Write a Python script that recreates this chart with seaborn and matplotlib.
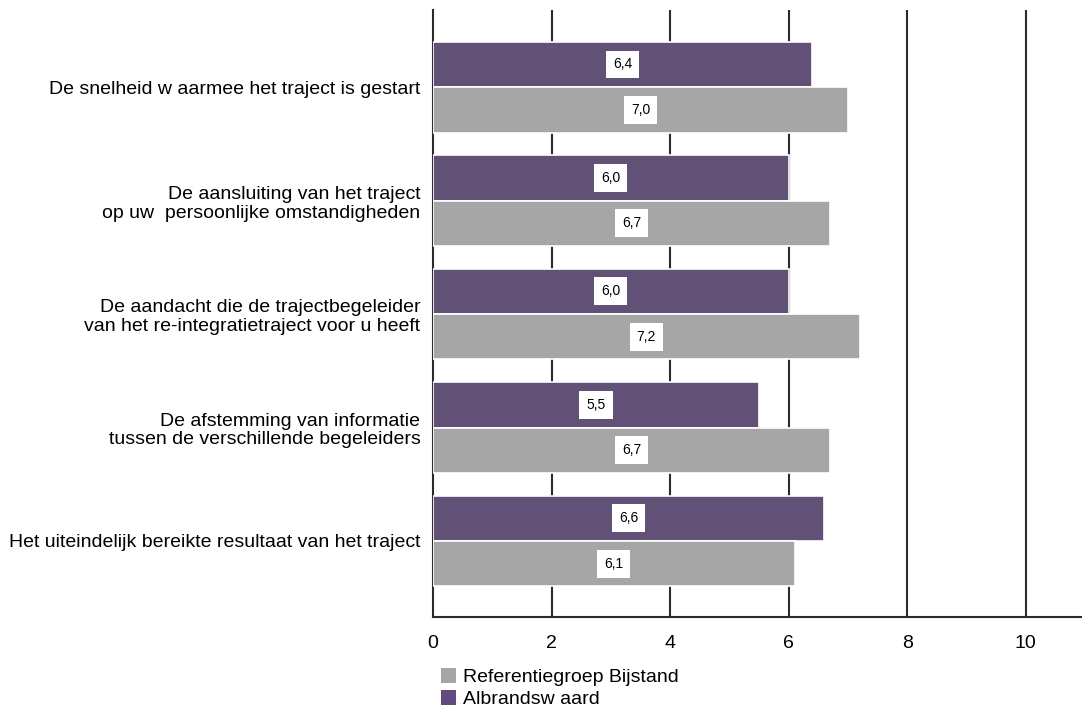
import matplotlib
matplotlib.use("Agg")
import matplotlib.pyplot as plt
from matplotlib.patches import Patch
import seaborn as sns
import pandas as pd

# Survey items (y categories)
items = [
    "De snelheid w aarmee het traject is gestart",
    "De aansluiting van het traject\nop uw  persoonlijke omstandigheden",
    "De aandacht die de trajectbegeleider\nvan het re-integratietraject voor u heeft",
    "De afstemming van informatie\ntussen de verschillende begeleiders",
    "Het uiteindelijk bereikte resultaat van het traject",
]
# Average scores per group
albrandswaard = [6.4, 6.0, 6.0, 5.5, 6.6]
referentie = [7.0, 6.7, 7.2, 6.7, 6.1]
groups = ["Albrandsw aard", "Referentiegroep Bijstand"]
x_ticks = [0, 2, 4, 6, 8, 10]

purple = "#624B7C"
grey = "#A6A6A6"

df = pd.DataFrame({
    "item": items * 2,
    "score": albrandswaard + referentie,
    "groep": [groups[0]] * len(items) + [groups[1]] * len(items),
})

sns.set_style("white")
plt.rcParams["font.family"] = ["Liberation Sans", "DejaVu Sans"]
plt.rcParams["text.color"] = "black"
plt.rcParams["xtick.color"] = "black"
plt.rcParams["ytick.color"] = "black"

fig = plt.figure(figsize=(10.82, 7.10), dpi=100)
ax = fig.add_axes([433 / 1082, 1 - 617 / 710, 1 - 433 / 1082, (617 - 10) / 710])

sns.barplot(
    data=df, y="item", x="score", hue="groep", hue_order=groups,
    order=items, palette=[purple, grey], orient="h", width=0.8,
    edgecolor="white", linewidth=1.2, ax=ax, legend=False, zorder=3,
)

ax.set_xlim(0, (1082 - 433) / 59.27)
ax.set_ylim(4.67, -0.68)
ax.set_xticks(x_ticks)
ax.set_xticklabels([str(t) for t in x_ticks], fontsize=14)
ax.tick_params(axis="x", length=0, pad=13)
ax.tick_params(axis="y", length=0, pad=9, labelsize=14)
for lbl in ax.get_yticklabels():
    lbl.set_linespacing(1.15)
ax.set_xlabel("")
ax.set_ylabel("")

# Vertical gridlines behind the bars
for t in x_ticks[1:]:
    ax.axvline(t, color="#2b2b2b", lw=1.5, zorder=1)

for side in ["top", "right"]:
    ax.spines[side].set_visible(False)
ax.spines["left"].set_color("#2b2b2b")
ax.spines["left"].set_linewidth(1.5)
ax.spines["left"].set_zorder(1)
ax.spines["bottom"].set_color("#2b2b2b")
ax.spines["bottom"].set_linewidth(1.5)

# Value labels in white boxes at the middle of each bar
for container in ax.containers:
    for bar in container:
        w = bar.get_width()
        yc = bar.get_y() + bar.get_height() / 2
        ax.text(w / 2, yc, f"{w:.1f}".replace(".", ","), ha="center", va="center",
                fontsize=10, zorder=5,
                bbox=dict(boxstyle="square,pad=0.5", fc="white", ec="none"))

handles = [Patch(facecolor=grey, edgecolor="none"), Patch(facecolor=purple, edgecolor="none")]
fig.legend(handles, [groups[1], groups[0]], loc="lower left",
           bbox_to_anchor=(439 / 1082, 0.0), frameon=False, fontsize=14,
           handlelength=0.78, handleheight=0.78, handletextpad=0.35,
           labelspacing=0.2, borderaxespad=0.0, borderpad=0.1)

fig.savefig("out.png", dpi=100)
